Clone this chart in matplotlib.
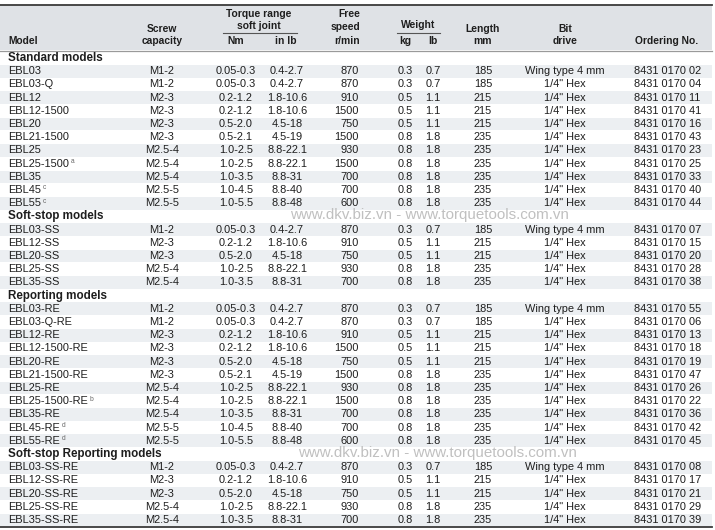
import matplotlib
matplotlib.use("Agg")
import matplotlib.pyplot as plt

# sections and rows of the table
sections = ["Standard models", "Soft-stop models", "Reporting models", "Soft-stop Reporting models"]

models = [
    ["EBL03", "EBL03-Q", "EBL12", "EBL12-1500", "EBL20", "EBL21-1500", "EBL25", "EBL25-1500",
     "EBL35", "EBL45", "EBL55"],
    ["EBL03-SS", "EBL12-SS", "EBL20-SS", "EBL25-SS", "EBL35-SS"],
    ["EBL03-RE", "EBL03-Q-RE", "EBL12-RE", "EBL12-1500-RE", "EBL20-RE", "EBL21-1500-RE", "EBL25-RE",
     "EBL25-1500-RE", "EBL35-RE", "EBL45-RE", "EBL55-RE"],
    ["EBL03-SS-RE", "EBL12-SS-RE", "EBL20-SS-RE", "EBL25-SS-RE", "EBL35-SS-RE"],
]
notes = {"EBL25-1500": "a", "EBL45": "c", "EBL55": "c", "EBL25-1500-RE": "b",
         "EBL45-RE": "d", "EBL55-RE": "d"}

screw = [
    ["M1-2", "M1-2", "M2-3", "M2-3", "M2-3", "M2-3", "M2.5-4", "M2.5-4", "M2.5-4", "M2.5-5", "M2.5-5"],
    ["M1-2", "M2-3", "M2-3", "M2.5-4", "M2.5-4"],
    ["M1-2", "M1-2", "M2-3", "M2-3", "M2-3", "M2-3", "M2.5-4", "M2.5-4", "M2.5-4", "M2.5-5", "M2.5-5"],
    ["M1-2", "M2-3", "M2-3", "M2.5-4", "M2.5-4"],
]
torque_nm = [
    ["0.05-0.3", "0.05-0.3", "0.2-1.2", "0.2-1.2", "0.5-2.0", "0.5-2.1", "1.0-2.5", "1.0-2.5",
     "1.0-3.5", "1.0-4.5", "1.0-5.5"],
    ["0.05-0.3", "0.2-1.2", "0.5-2.0", "1.0-2.5", "1.0-3.5"],
    ["0.05-0.3", "0.05-0.3", "0.2-1.2", "0.2-1.2", "0.5-2.0", "0.5-2.1", "1.0-2.5", "1.0-2.5",
     "1.0-3.5", "1.0-4.5", "1.0-5.5"],
    ["0.05-0.3", "0.2-1.2", "0.5-2.0", "1.0-2.5", "1.0-3.5"],
]
torque_inlb = [
    ["0.4-2.7", "0.4-2.7", "1.8-10.6", "1.8-10.6", "4.5-18", "4.5-19", "8.8-22.1", "8.8-22.1",
     "8.8-31", "8.8-40", "8.8-48"],
    ["0.4-2.7", "1.8-10.6", "4.5-18", "8.8-22.1", "8.8-31"],
    ["0.4-2.7", "0.4-2.7", "1.8-10.6", "1.8-10.6", "4.5-18", "4.5-19", "8.8-22.1", "8.8-22.1",
     "8.8-31", "8.8-40", "8.8-48"],
    ["0.4-2.7", "1.8-10.6", "4.5-18", "8.8-22.1", "8.8-31"],
]
speed = [
    [870, 870, 910, 1500, 750, 1500, 930, 1500, 700, 700, 600],
    [870, 910, 750, 930, 700],
    [870, 870, 910, 1500, 750, 1500, 930, 1500, 700, 700, 600],
    [870, 910, 750, 930, 700],
]
weight_kg = [
    [0.3, 0.3, 0.5, 0.5, 0.5, 0.8, 0.8, 0.8, 0.8, 0.8, 0.8],
    [0.3, 0.5, 0.5, 0.8, 0.8],
    [0.3, 0.3, 0.5, 0.5, 0.5, 0.8, 0.8, 0.8, 0.8, 0.8, 0.8],
    [0.3, 0.5, 0.5, 0.8, 0.8],
]
weight_lb = [
    [0.7, 0.7, 1.1, 1.1, 1.1, 1.8, 1.8, 1.8, 1.8, 1.8, 1.8],
    [0.7, 1.1, 1.1, 1.8, 1.8],
    [0.7, 0.7, 1.1, 1.1, 1.1, 1.8, 1.8, 1.8, 1.8, 1.8, 1.8],
    [0.7, 1.1, 1.1, 1.8, 1.8],
]
length = [
    [185, 185, 215, 215, 215, 235, 235, 235, 235, 235, 235],
    [185, 215, 215, 235, 235],
    [185, 185, 215, 215, 215, 235, 235, 235, 235, 235, 235],
    [185, 215, 215, 235, 235],
]
hexd = '1/4" Hex'
wing = "Wing type 4 mm"
bit = [
    [wing] + [hexd] * 10,
    [wing] + [hexd] * 4,
    [wing] + [hexd] * 10,
    [wing] + [hexd] * 4,
]
order_no = [
    ["02", "04", "11", "41", "16", "43", "23", "25", "33", "40", "44"],
    ["07", "15", "20", "28", "38"],
    ["55", "06", "13", "18", "19", "47", "26", "22", "36", "42", "45"],
    ["08", "17", "21", "29", "39"],
]
watermark = "www.dkv.biz.vn - www.torquetools.com.vn"

plt.rcParams['font.family'] = ['Liberation Sans', 'DejaVu Sans']
ink = '#1e1e1e'
shade = '#eceff2'

fig = plt.figure(figsize=(7.15, 5.30), dpi=100)
ax = fig.add_axes([0, 0, 1, 1])
ax.set_xlim(0, 715)
ax.set_ylim(530, 0)
ax.axis('off')

# header block
ax.fill_between([0, 712], 5, 50, color='#dfe2e6', lw=0)
ax.plot([0, 712], [4.5, 4.5], color='#3a3a3a', lw=1.3)
ax.plot([0, 712], [50.5, 50.5], color='#9a9a9a', lw=0.9)

hs = 7.4
def head(x, y, s, ha='center'):
    ax.text(x, y, s, ha=ha, va='center', fontsize=hs, fontweight='bold', color=ink)

head(8, 41, "Model", ha='left')
head(162, 29, "Screw")
head(162, 41, "capacity")
head(259, 14, "Torque range")
head(259, 26, "soft joint")
ax.plot([223, 297], [33, 33], color='#555555', lw=0.8)
head(236, 41, "Nm")
head(286, 41, "in lb")
head(360, 14, "Free", ha='right')
head(360, 27, "speed", ha='right')
head(360, 41, "r/min", ha='right')
head(418, 25, "Weight")
ax.plot([397, 440], [33, 33], color='#555555', lw=0.8)
head(405, 41, "kg")
head(433, 41, "lb")
head(483, 29, "Length")
head(483, 41, "mm")
head(565, 29, "Bit")
head(565, 41, "drive")
head(635, 41, "Ordering No.", ha='left')

# body
y0 = 58.0
step = 13.2
fs = 7.95
row = 0
for s, name in enumerate(sections):
    y = y0 + row * step
    ax.text(8, y, name, ha='left', va='center', fontsize=8.4, fontweight='bold', color=ink)
    row += 1
    for i, m in enumerate(models[s]):
        y = y0 + row * step
        if i % 2 == 0:
            ax.fill_between([0, 712], y - step / 2 + 0.3, y + step / 2 - 0.3, color=shade, lw=0)
        t = ax.text(8, y, m, ha='left', va='center', fontsize=fs, color=ink)
        if m in notes:
            ax.annotate(notes[m], xy=(1, 1), xycoords=t, xytext=(1.5, 0.5),
                        textcoords='offset points', ha='left', va='top', fontsize=4.8, color='#666666')
        ax.text(162, y, screw[s][i], ha='center', va='center', fontsize=fs, color=ink)
        ax.text(236, y, torque_nm[s][i], ha='center', va='center', fontsize=fs, color=ink)
        ax.text(287, y, torque_inlb[s][i], ha='center', va='center', fontsize=fs, color=ink)
        ax.text(359, y, str(speed[s][i]), ha='right', va='center', fontsize=fs, color=ink)
        ax.text(405, y, f"{weight_kg[s][i]:.1f}", ha='center', va='center', fontsize=fs, color=ink)
        ax.text(433, y, f"{weight_lb[s][i]:.1f}", ha='center', va='center', fontsize=fs, color=ink)
        ax.text(483, y, str(length[s][i]), ha='center', va='center', fontsize=fs, color=ink)
        ax.text(565, y, bit[s][i], ha='center', va='center', fontsize=fs, color=ink)
        ax.text(634, y, "8431 0170 " + order_no[s][i], ha='left', va='center', fontsize=fs, color=ink)
        row += 1

ax.plot([0, 712], [526.5, 526.5], color='#3a3a3a', lw=1.3)

# watermarks
ax.text(290, 215, watermark, ha='left', va='center', fontsize=10.9, color='#c0c0c0')
ax.text(298, 453, watermark, ha='left', va='center', fontsize=10.9, color='#c0c0c0')

fig.savefig("out.png", dpi=100)
